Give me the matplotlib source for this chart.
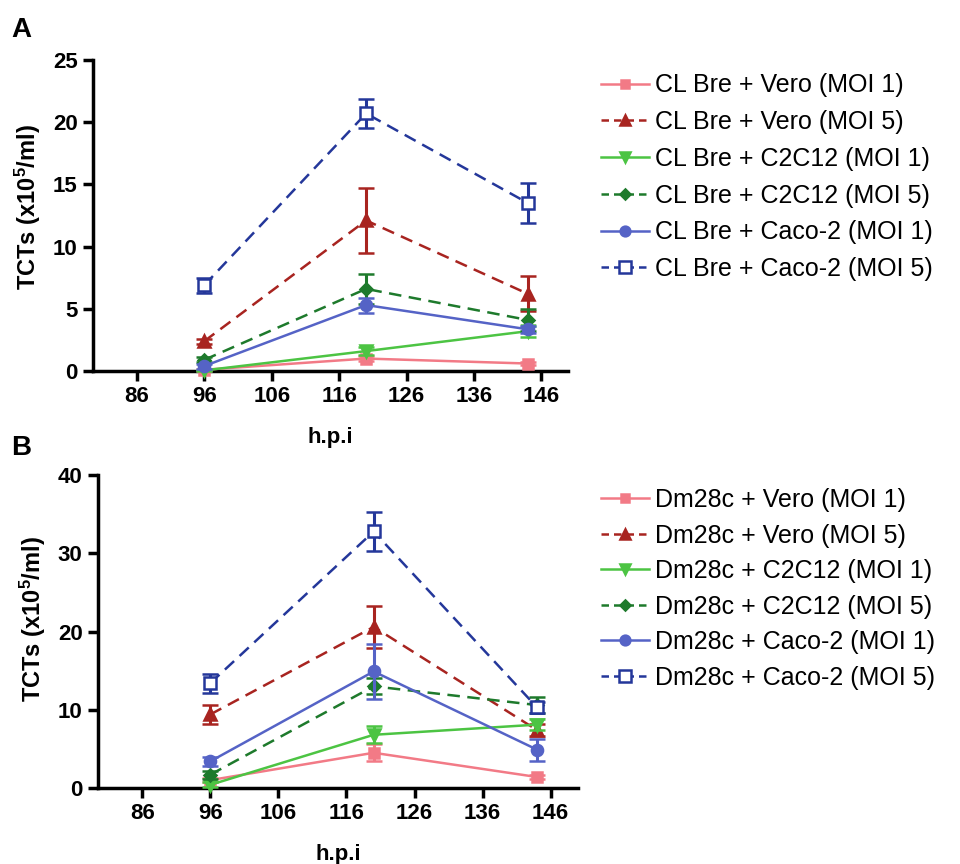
import numpy as np
import matplotlib
matplotlib.use("Agg")
import matplotlib.pyplot as plt
from matplotlib.lines import Line2D

plt.rcParams['font.family'] = ['Liberation Sans', 'DejaVu Sans']
plt.rcParams['mathtext.fontset'] = 'custom'
plt.rcParams['mathtext.rm'] = 'Liberation Sans:bold'
plt.rcParams['mathtext.bf'] = 'Liberation Sans:bold'
plt.rcParams['mathtext.default'] = 'rm'

hpi = [96, 120, 144]
conditions = ["Vero (MOI 1)", "Vero (MOI 5)", "C2C12 (MOI 1)",
              "C2C12 (MOI 5)", "Caco-2 (MOI 1)", "Caco-2 (MOI 5)"]

# panel A: CL Bre
a_mean = [
    [0.1, 1.0, 0.6],
    [2.4, 12.1, 6.2],
    [0.05, 1.6, 3.2],
    [0.9, 6.6, 4.1],
    [0.4, 5.3, 3.35],
    [6.9, 20.7, 13.5],
]
a_err = [
    [0.1, 0.2, 0.15],
    [0.2, 2.6, 1.4],
    [0.05, 0.3, 0.45],
    [0.2, 1.2, 0.9],
    [0.2, 0.6, 0.3],
    [0.6, 1.15, 1.6],
]

# panel B: Dm28c
b_mean = [
    [1.0, 4.5, 1.4],
    [9.4, 20.6, 7.4],
    [0.4, 6.8, 8.1],
    [1.7, 13.0, 10.6],
    [3.4, 14.9, 4.9],
    [13.4, 32.8, 10.3],
]
b_err = [
    [0.3, 1.1, 0.3],
    [1.25, 2.7, 0.8],
    [0.3, 1.1, 0.7],
    [0.5, 1.0, 1.0],
    [0.6, 3.5, 1.4],
    [1.2, 2.5, 0.7],
]

colors = ['#F27A86', '#A82420', '#4CC443', '#1E7A2C', '#5563C6', '#24379A']
markers = ['s', '^', 'v', 'D', 'o', 's']
msizes = [7, 8, 8, 6, 8, 9]
dashed = [False, True, False, True, False, True]

fig = plt.figure(figsize=(9.6, 8.64), dpi=100)
ax_a = fig.add_axes([0.097, 0.5706, 0.495, 0.36])
ax_b = fig.add_axes([0.102, 0.088, 0.500, 0.362])


def draw_panel(ax, means, errs, prefix, ymax, ystep, leg_y, lab_y, spacing):
    handles = []
    for i in range(len(conditions)):
        ls = (0, (5, 3)) if dashed[i] else '-'
        mfc = 'white' if i == 5 else colors[i]
        ax.errorbar(hpi, means[i], yerr=errs[i], color=colors[i],
                    linestyle=ls, linewidth=1.8, marker=markers[i],
                    markersize=msizes[i], markerfacecolor=mfc,
                    markeredgecolor=colors[i], markeredgewidth=1.8,
                    elinewidth=2.2, capsize=6, capthick=2.2,
                    zorder=3 + i, clip_on=False)
        handles.append(Line2D([], [], color=colors[i],
                              linestyle=(0, (3, 2)) if dashed[i] else '-',
                              linewidth=1.8, marker=markers[i],
                              markersize=msizes[i] - 1, markerfacecolor=mfc,
                              markeredgecolor=colors[i], markeredgewidth=1.8,
                              label=prefix + " + " + conditions[i]))
    ax.set_xlim(79.5, 150)
    ax.set_ylim(0, ymax)
    ax.set_xticks([86, 96, 106, 116, 126, 136, 146])
    ax.set_yticks(np.arange(0, ymax + 1, ystep))
    for s in ['top', 'right']:
        ax.spines[s].set_visible(False)
    for s in ['left', 'bottom']:
        ax.spines[s].set_linewidth(2.5)
    ax.tick_params(width=2.5, length=7, labelsize=16, pad=4)
    for lab in ax.get_xticklabels() + ax.get_yticklabels():
        lab.set_fontweight('bold')
    ax.set_xlabel('h.p.i', fontsize=16, fontweight='bold', labelpad=14)
    ax.set_ylabel(r'TCTs (x10$^5$/ml)', fontsize=17, fontweight='bold')
    ax.yaxis.set_label_coords(-0.105, lab_y)
    ax.legend(handles=handles, loc='upper left', bbox_to_anchor=(0.603, leg_y),
              bbox_transform=fig.transFigure, frameon=False, fontsize=18,
              handlelength=1.9, handletextpad=0.24, labelspacing=spacing)


draw_panel(ax_a, a_mean, a_err, "CL Bre", 25, 5, 0.941, 0.527, 0.51)
draw_panel(ax_b, b_mean, b_err, "Dm28c", 40, 10, 0.461, 0.54, 0.46)

fig.text(0.012, 0.957, 'A', fontsize=20, fontweight='bold')
fig.text(0.012, 0.473, 'B', fontsize=20, fontweight='bold')

fig.savefig('out.png', dpi=100)
